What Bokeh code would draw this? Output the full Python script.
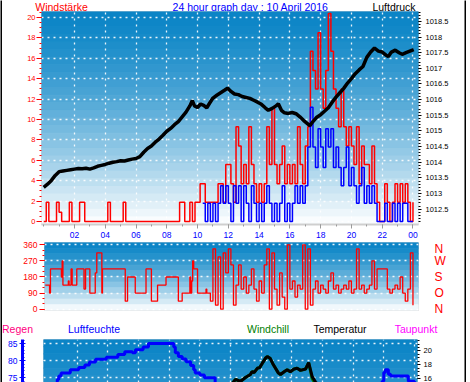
import numpy as np
from bokeh.plotting import figure
from bokeh.layouts import column, row
from bokeh.models import (Range1d, LinearAxis, FixedTicker, Grid,
                          CustomJSTickFormatter)
from bokeh.core.properties import value
from bokeh.embed import file_html
from bokeh.resources import INLINE

nan = float("nan")

# ---------------- data ----------------
hour_ticks = [2, 4, 6, 8, 10, 12, 14, 16, 18, 20, 22, 24]
hour_labels = ["02", "04", "06", "08", "10", "12", "14", "16", "18", "20", "22", "00"]

# wind gust (red), km/h, 10-minute samples from 00:00
gust = [0, 1.9, 0, 0, 0, 1.9,
        0.9, 0, 0, 0, 1.9, 0,
        0, 0, 1.9, 1.9, 0, 0,
        0, 0, 0, 0, 0, 0,
        0, 1.9, 0, 0, 0, 0,
        0, 1.9, 0, 0, 0, 0,
        0, 0, 0, 0, 0, 0,
        0, 0, 0, 0, 0, 0,
        0, 0, 0, 0, 0, 1.9,
        1.9, 0, 0, 1.9, 0, 1.9,
        1.9, 3.7, 3.7, 1.9, 1.9, 1.9,
        1.9, 1.9, 3.7, 3.7, 1.9, 5.6,
        5.6, 3.7, 1.9, 9.3, 7.4, 3.7,
        5.6, 3.7, 9.3, 5.6, 3.7, 1.9,
        3.7, 1.9, 3.7, 9.3, 5.6, 11.1,
        5.6, 3.7, 5.6, 7.4, 3.7, 5.6,
        3.7, 5.6, 3.7, 9.3, 5.6, 3.7,
        7.4, 9.3, 16.7, 14.8, 13.0, 18.5,
        13.0, 11.1, 14.8, 20.4, 16.7, 13.0,
        11.1, 9.3, 13.0, 9.3, 7.4, 9.3,
        7.4, 5.6, 9.3, 3.7, 7.4, 5.6,
        5.6, 3.7, 7.4, 3.7, 1.9, 0,
        0, 3.7, 1.9, 0, 1.9, 3.7,
        1.9, 3.7, 1.9, 3.7, 1.9, 0,
        1.9]

# mean wind (blue)
avg = [nan] * 62 + [1.8, 0, 1.8, 0,
        1.8, 0, 1.8, 3.5, 1.8, 3.5,
        1.8, 0, 3.5, 1.8, 3.5, 0,
        3.5, 1.8, 0, 3.5, 1.8, 0,
        1.8, 0, 1.8, 3.5, 1.8, 0,
        1.8, 0, 1.8, 3.5, 0, 1.8,
        0, 1.8, 3.5, 1.8, 3.5, 1.8,
        3.5, 7.3, 11.2, 7.3, 5.3, 9.1,
        7.3, 5.3, 9.1, 7.3, 9.1, 5.3,
        7.3, 5.3, 3.5, 5.3, 7.3, 3.5,
        5.3, 3.5, 1.8, 3.5, 5.3, 1.8,
        3.5, 1.8, 3.5, 1.8, 0, 0,
        0, 1.8, 0, 0, 1.8, 0,
        1.8, 0, 1.8, 1.8, 0, 0,
        0]

# pressure (black), hPa
press_h = [0, 0.25, 0.5, 0.75, 1.0, 1.25, 1.5, 1.75, 2.0, 2.25, 2.5, 2.75, 3.0,
           3.25, 3.5, 3.75, 4.0, 4.25, 4.5, 4.75, 5.0, 5.25, 5.5, 5.75, 6.0, 6.25,
           6.5, 6.75, 7.0, 7.25, 7.5, 7.75, 8.0, 8.25, 8.5, 8.75, 9.0, 9.25, 9.5,
           9.66, 9.8, 10.0, 10.2, 10.4, 10.6, 10.8, 11.0, 11.25, 11.5, 11.75, 11.95,
           12.15, 12.4, 12.65, 12.9, 13.15, 13.4, 13.65, 13.9, 14.15, 14.4, 14.6,
           14.85, 15.1, 15.25, 15.45, 15.65, 15.9, 16.15, 16.4, 16.65, 16.9, 17.1,
           17.3, 17.5, 17.75, 18.0, 18.25, 18.5, 18.75, 19.0, 19.25, 19.5, 19.75,
           20.0, 20.25, 20.5, 20.75, 21.0, 21.25, 21.5, 21.75, 22.0, 22.25, 22.4,
           22.6, 22.85, 23.1, 23.3, 23.55, 23.8, 24.05]
press_v = [1013.20, 1013.30, 1013.42, 1013.58, 1013.70, 1013.72, 1013.74, 1013.76,
           1013.78, 1013.80, 1013.79, 1013.81, 1013.78, 1013.82, 1013.87, 1013.90,
           1013.93, 1013.97, 1014.00, 1014.02, 1014.05, 1014.04, 1014.07, 1014.10,
           1014.12, 1014.18, 1014.32, 1014.44, 1014.52, 1014.64, 1014.74, 1014.86,
           1014.99, 1015.08, 1015.20, 1015.30, 1015.45, 1015.60, 1015.80,
           1015.97, 1015.80, 1015.75, 1015.86, 1015.82, 1015.74, 1015.90,
           1016.05, 1016.14, 1016.22, 1016.30, 1016.37,
           1016.27, 1016.18, 1016.16, 1016.10, 1016.07, 1016.04, 1015.98, 1015.92,
           1015.85, 1015.74, 1015.66, 1015.72, 1015.80, 1015.87, 1015.66, 1015.58,
           1015.56, 1015.59, 1015.55, 1015.45, 1015.33, 1015.25, 1015.17, 1015.30,
           1015.44, 1015.52, 1015.63, 1015.74, 1015.92, 1016.08, 1016.22, 1016.36,
           1016.53, 1016.67, 1016.83, 1016.95, 1017.06, 1017.35, 1017.52, 1017.65,
           1017.55, 1017.52, 1017.42, 1017.38, 1017.52, 1017.58, 1017.50, 1017.45,
           1017.50, 1017.55, 1017.60]

# wind direction (degrees): change points, then 10-minute samples
dir_t1 = [0.1, 0.38, 0.44, 1.15, 1.2, 1.25, 1.6, 1.65, 1.78, 1.85, 2.15, 2.62,
          2.72, 3.0, 3.35, 3.45, 3.78, 3.82, 5.3, 5.45, 5.95, 6.65, 7.0, 7.4, 7.95,
          8.75, 9.0, 9.5, 9.55, 9.62, 9.68, 9.75, 10.0, 10.55, 10.6]
dir_v1 = [135, 90, 225, 180, 270, 135, 157.5, 135, 225, 135, 225, 112.5,
          225, 90, 202.5, 315, 90, 225, 45, 180, 90, 225, 45, 135, 180,
          45, 90, 180, 90, 157.5, 270, 225, 90, 112.5, 90]
dir_v2 = [45,
          337.5, 22.5, 292.5, 0, 315, 202.5,
          337.5, 247.5, 22.5, 135, 247.5, 112.5,
          180, 90, 135, 225, 112.5, 45,
          157.5, 90, 247.5, 337.5, 0, 315,
          112.5, 22.5, 202.5, 67.5, 0, 360,
          112.5, 157.5, 67.5, 135, 112.5, 360,
          0, 337.5, 22.5, 112.5, 157.5, 90,
          135, 112.5, 90, 157.5, 202.5, 112.5,
          135, 90, 112.5, 135, 112.5, 157.5,
          90, 112.5, 337.5, 112.5, 135, 90,
          112.5, 135, 270, 112.5, 225, 225,
          225, 225, 112.5, 90, 112.5, 135,
          112.5, 180, 90, 45, 112.5, 315,
          22.5]
dir_ticks = [0, 90, 180, 270, 360]
dir_labels = ["N", "O", "S", "W", "N"]

# humidity (blue), %
hum_h = [0, 0.5, 0.7, 0.8, 0.95, 1.55, 2.1, 2.5, 2.8, 3.2, 3.9, 4.6, 4.65, 5.1,
         5.6, 5.8, 6.3, 6.65, 8.2, 8.3, 8.4, 8.6, 8.85, 9.1, 9.4, 9.6, 9.7, 10.0,
         10.3, 11, 14, 18, 21.9, 22.0, 22.1, 22.3, 22.45, 23.5, 23.6, 24]
hum_v = [68, 72, 74.5, 75.5, 76.4, 77.3, 78.0, 78.7, 79.6, 80.4, 81.0, 81.0, 81.8,
         82.6, 82.3, 83.2, 84.0, 85.0, 85.0, 84.0, 82.3, 81.2, 80.5, 79.7, 78.6,
         77.3, 76.4, 75.8, 75.0, 72, 58, 60, 74, 76.5, 77.3, 76.0, 75.5, 75.5,
         74, 73]

# temperature (black), windchill (green), dew point (magenta), degC
temp_h = [0, 3, 6, 9, 11, 12.0, 12.33, 12.65, 13.0, 13.3, 13.4, 13.55, 13.75,
          13.9, 14.07, 14.3, 14.4, 14.6, 14.8, 15.13, 15.26, 15.5, 15.7, 15.9,
          16.15, 16.35, 16.57, 16.9, 17.1, 17.33, 17.55, 17.9, 19, 21, 24]
temp_v = [9.5, 8.8, 8.4, 10.5, 13.6, 15.0, 15.9, 15.6, 16.2, 16.6, 17.0, 16.9,
          17.5, 17.6, 18.2, 19.0, 19.2, 18.9, 18.0, 16.8, 16.6, 17.0, 17.3, 17.0,
          17.4, 17.5, 17.2, 17.4, 18.3, 16.3, 15.5, 14.8, 14.0, 12.9, 11.6]
chill_v = [9.5, 8.8, 8.4, 10.5, 13.6, 15.0, 15.9, 15.6, 16.2, 16.6, 17.0, 16.9,
           17.5, 17.6, 18.2, 19.0, 19.2, 18.9, 18.0, 16.8, 16.6, 17.0, 17.3, 17.0,
           17.4, 17.5, 17.2, 17.4, 18.3, 16.0, 15.2, 14.5, 13.8, 12.9, 11.6]
dew_h = [0, 6, 12, 18, 24]
dew_v = [5.5, 6.0, 7.5, 9.0, 7.0]

# header / legend texts
title_texts = ["Windstärke", "24 hour graph day : 10 April 2016", "Luftdruck"]
title_colors = ["#ff0000", "#0000ff", "#000000"]
legend_texts = ["Regen", "Luftfeuchte", "Windchill", "Temperatur", "Taupunkt"]
legend_colors = ["#ff0080", "#0000ff", "#008000", "#000000", "#ff00ff"]

assert len(gust) == 145 and len(avg) == 145
assert len(press_h) == len(press_v)
assert len(dir_t1) == len(dir_v1)
assert len(hum_h) == len(hum_v)
assert len(temp_h) == len(temp_v) == len(chill_v)

wind_t = np.arange(len(gust)) / 6.0
dir_t = list(dir_t1) + list(10.0 + 5.0 / 6.0 + np.arange(len(dir_v2)) / 6.0)
dir_v = list(dir_v1) + list(dir_v2)

# ---------------- style helpers ----------------
FONT = "Liberation Sans"
X0 = 2          # left edge of the content (after the black frame line)
W = 462         # content width
TOP = np.array([10, 132, 198])
WHITE = np.array([255, 255, 255])


def gradient(p, x0, x1, y_top, y_bot, n, t_end=1.0):
    edges = np.linspace(y_top, y_bot, n + 1)
    cols = []
    for i in range(n):
        t = ((i + 0.5) / n) * t_end
        c = TOP + (WHITE - TOP) * (t ** 1.4)
        cols.append("#%02x%02x%02x" % tuple(int(round(v)) for v in c))
    r = p.quad(left=x0, right=x1, top=edges[:-1], bottom=edges[1:],
               fill_color=cols, line_color=cols, line_width=1)
    r.level = "image"


def dotted_grid(p, dim, ticks):
    g = Grid(dimension=dim, ticker=FixedTicker(ticks=ticks), grid_line_color="white",
             grid_line_dash="2 4", grid_line_width=1.3, grid_line_alpha=0.9)
    p.add_layout(g)


def base_fig(h, xr, yr, left, right, mt, mb):
    # left/right: frame edges in page pixels
    p = figure(width=W, height=h, x_range=xr, y_range=yr, output_backend="svg",
               toolbar_location=None, title=None, x_axis_location=None,
               y_axis_location=None, min_border_left=left - X0,
               min_border_right=X0 + W - right,
               min_border_top=mt, min_border_bottom=mb, frame_align=False)
    p.center = []
    p.outline_line_color = "#d8d8d8"
    p.outline_line_width = 1
    p.border_fill_color = "white"
    p.background_fill_color = "white"
    return p


def text_strip(h, texts, xs, colors, size):
    s = figure(width=W, height=h, x_range=Range1d(X0, X0 + W), y_range=Range1d(h, 0),
               output_backend="svg", toolbar_location=None, title=None,
               x_axis_location=None, y_axis_location=None,
               min_border=0, min_border_left=0, min_border_right=0,
               min_border_top=0, min_border_bottom=0, frame_align=False)
    s.center = []
    s.outline_line_color = None
    s.background_fill_color = "white"
    s.border_fill_color = "white"
    s.text(x=xs, y=[h / 2.0 - 0.5] * len(xs), text=texts, text_color=colors,
           text_font=value(FONT), text_font_size=size, text_align="center",
           text_baseline="middle")
    return s


def black_bar(h):
    b = figure(width=2, height=h, output_backend="svg", toolbar_location=None,
               title=None, x_axis_location=None, y_axis_location=None,
               min_border=0, min_border_left=0, min_border_right=0,
               min_border_top=0, min_border_bottom=0, frame_align=False)
    b.center = []
    b.outline_line_color = None
    b.background_fill_color = "black"
    b.border_fill_color = "black"
    return b


def style_axis(ax, color, size="8px"):
    ax.major_label_text_font = FONT
    ax.major_label_text_font_size = size
    ax.major_label_text_color = color
    ax.major_tick_line_color = color
    ax.minor_tick_line_color = color
    ax.major_tick_in = 0
    ax.minor_tick_in = 0


# ---------------- header ----------------
head = text_strip(11, title_texts, [61, 250, 393.5], title_colors, "10.5px")

# ---------------- top panel: wind + pressure ----------------
X1 = (-0.143, 24.36)
Y1 = (-0.29, 20.59)
p1 = base_fig(230, Range1d(*X1), Range1d(*Y1), 41, 418, 0, 17)
gradient(p1, X1[0], X1[1], Y1[1], Y1[0], 28)
dotted_grid(p1, 0, hour_ticks)
dotted_grid(p1, 1, list(range(0, 21, 2)))

p1.extra_y_ranges = {"p": Range1d(1012.011, 1018.816)}

axl = LinearAxis(ticker=FixedTicker(ticks=list(range(0, 21, 2)),
                                    minor_ticks=list(np.arange(0, 20.6, 0.5))))
style_axis(axl, "#ff0000", "7.5px")
axl.axis_line_color = None
axl.major_tick_out = 5
axl.minor_tick_out = 2
axl.major_label_standoff = 1
p1.add_layout(axl, "left")

axr = LinearAxis(y_range_name="p",
                 ticker=FixedTicker(ticks=list(np.arange(1012.5, 1018.6, 0.5)),
                                    minor_ticks=list(np.arange(1012.1, 1018.85, 0.1))),
                 formatter=CustomJSTickFormatter(code="return String(Math.round(tick*10)/10);"))
style_axis(axr, "#000000", "7.5px")
axr.axis_line_color = None
axr.major_tick_out = 3
axr.minor_tick_out = 2
axr.major_label_standoff = 4
p1.add_layout(axr, "right")

axb = LinearAxis(ticker=FixedTicker(ticks=hour_ticks, minor_ticks=list(range(0, 25))),
                 major_label_overrides=dict(zip(hour_ticks, hour_labels)))
style_axis(axb, "#0000ff", "8.5px")
axb.axis_line_color = "#cfcfcf"
axb.axis_line_width = 2
axb.major_tick_line_color = "#9a9a9a"
axb.minor_tick_line_color = "#9a9a9a"
axb.major_tick_out = 4
axb.minor_tick_out = 2
axb.major_label_standoff = 3
p1.add_layout(axb, "below")

p1.step(wind_t, gust, mode="after", line_color="#ff0000", line_width=1.5)
p1.step(wind_t, avg, mode="after", line_color="#0000ff", line_width=1.5)
p1.line(press_h, press_v, y_range_name="p", line_color="black", line_width=3.5)

# ---------------- middle panel: wind direction ----------------
X2 = (0.052, 24.36)
Y2 = (-7.27, 372.8)
p2 = base_fig(77, Range1d(*X2), Range1d(*Y2), 44, 418, 1, 8)
gradient(p2, X2[0], X2[1], Y2[1], Y2[0], 12)
dotted_grid(p2, 1, dir_ticks)

axl2 = LinearAxis(ticker=FixedTicker(ticks=dir_ticks,
                                     minor_ticks=list(range(0, 361, 30))))
style_axis(axl2, "#ff0000", "8.5px")
axl2.axis_line_color = None
axl2.major_tick_out = 5
axl2.minor_tick_out = 2
axl2.major_label_standoff = 2
p2.add_layout(axl2, "left")

axr2 = LinearAxis(ticker=FixedTicker(ticks=dir_ticks),
                  major_label_overrides=dict(zip(dir_ticks, dir_labels)))
style_axis(axr2, "#ff0000", "12px")
axr2.axis_line_color = None
axr2.major_tick_line_color = None
axr2.minor_tick_line_color = None
axr2.major_tick_out = 0
axr2.major_label_standoff = 16
p2.add_layout(axr2, "right")

p2.step(dir_t, dir_v, mode="after", line_color="#ff0000", line_width=1.3)

# ---------------- legend strip ----------------
leg = text_strip(21, legend_texts, [17, 93.5, 267.5, 339.5, 415.5], legend_colors, "10.5px")

# ---------------- bottom panel: humidity + temperatures ----------------
X3 = (-0.198, 24.2)
Y3 = (73.6, 86.17)
p3 = base_fig(43, Range1d(*X3), Range1d(*Y3), 43, 417, 0, 0)
gradient(p3, X3[0], X3[1], Y3[1], Y3[0], 6, t_end=0.22)
dotted_grid(p3, 0, hour_ticks)
dotted_grid(p3, 1, [75, 80, 85])
p3.extra_y_ranges = {"t": Range1d(15.45, 21.65)}

# invisible (white) spacer axis that pushes the humidity axis away from the frame
spacer = LinearAxis(ticker=FixedTicker(ticks=[80]))
spacer.axis_line_color = None
spacer.major_tick_line_color = "white"
spacer.minor_tick_line_color = None
spacer.major_tick_out = 21
spacer.major_tick_in = 0
spacer.minor_tick_out = 0
spacer.major_label_text_color = None
spacer.major_label_standoff = 0
p3.add_layout(spacer, "left")

axl3 = LinearAxis(ticker=FixedTicker(ticks=[75, 80, 85], minor_ticks=list(range(74, 87))))
style_axis(axl3, "#0000ff", "8.5px")
axl3.axis_line_color = "#0000ff"
axl3.axis_line_width = 3
axl3.major_tick_in = 3
axl3.major_tick_out = 3
axl3.minor_tick_in = 2
axl3.minor_tick_out = 0
axl3.major_label_standoff = 2
p3.add_layout(axl3, "left")

axr3 = LinearAxis(y_range_name="t",
                  ticker=FixedTicker(ticks=[16, 18, 20],
                                     minor_ticks=list(np.arange(15.5, 21.7, 0.5))))
style_axis(axr3, "#000000", "7.5px")
axr3.axis_line_color = None
axr3.major_tick_out = 3
axr3.minor_tick_out = 2
axr3.major_label_standoff = 3
p3.add_layout(axr3, "right")

p3.step(hum_h, hum_v, mode="after", line_color="#0000ff", line_width=3)
p3.line(dew_h, dew_v, y_range_name="t", line_color="#ff00ff", line_width=2)
p3.line(temp_h, chill_v, y_range_name="t", line_color="#008000", line_width=3)
p3.line(temp_h, temp_v, y_range_name="t", line_color="black", line_width=3)

inner = column(head, p1, p2, leg, p3, spacing=0)
layout = row(black_bar(382), inner, black_bar(382), spacing=0)
open("out.html", "w").write(file_html(layout, INLINE))
